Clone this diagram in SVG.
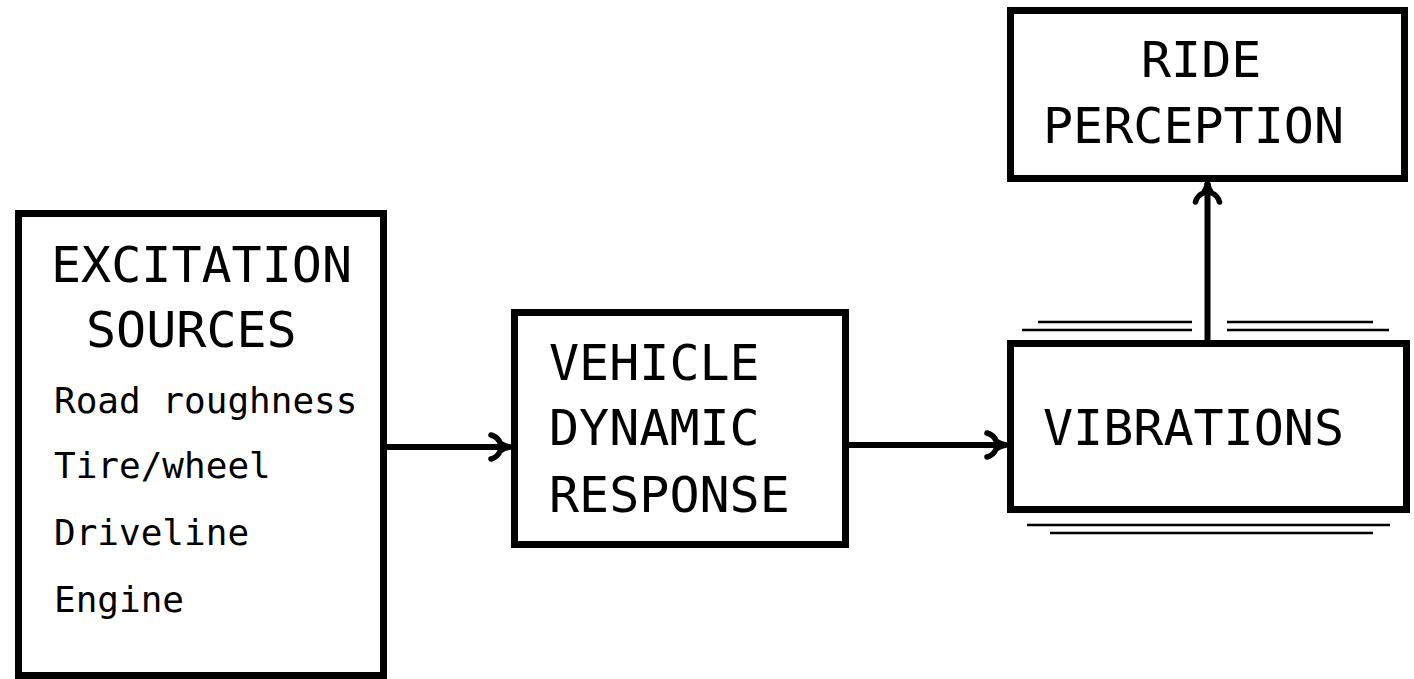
<svg xmlns="http://www.w3.org/2000/svg" width="1414" height="679" viewBox="0 0 1414 679">
<style>
.box{fill:#fff;stroke:#000;stroke-width:7}
.big{font-family:"DejaVu Sans Mono","Liberation Mono",monospace;font-size:50px;fill:#000}
.small{font-family:"DejaVu Sans Mono","Liberation Mono",monospace;font-size:36px;fill:#000}
.conn{stroke:#000;stroke-width:6;fill:none}
.thin{stroke:#000;stroke-width:2.5;fill:none}
</style>
<defs>
<marker id="arr" markerUnits="userSpaceOnUse" markerWidth="32" markerHeight="32" viewBox="-26 -16 32 32" refX="0" refY="0" orient="auto" overflow="visible">
<path d="M -19 -12 Q -12 -10 -10 -4 Q -6 -1 0 0 Q -6 1 -10 4 Q -12 10 -19 12" fill="none" stroke="#000" stroke-width="5.5" stroke-linecap="round" stroke-linejoin="round"/>
</marker>
</defs>
<rect width="1414" height="679" fill="#fff"/>
<g id="excitation">
<rect class="box" x="18.5" y="213.5" width="365" height="462"/>
<text class="big" x="51" y="282">EXCITATION</text>
<text class="big" x="86" y="347">SOURCES</text>
<text class="small" x="54" y="413">Road roughness</text>
<text class="small" x="54" y="478">Tire/wheel</text>
<text class="small" x="54" y="545">Driveline</text>
<text class="small" x="54" y="612">Engine</text>
</g>
<g id="vehicle">
<rect class="box" x="514.5" y="312.5" width="331" height="232"/>
<text class="big" x="549" y="380">VEHICLE</text>
<text class="big" x="549" y="445">DYNAMIC</text>
<text class="big" x="549" y="512">RESPONSE</text>
</g>
<g id="vibrations">
<rect class="box" x="1010.5" y="343.5" width="396" height="166"/>
<text class="big" x="1043" y="445">VIBRATIONS</text>
<line class="thin" x1="1038" y1="322" x2="1192" y2="322"/>
<line class="thin" x1="1022" y1="330" x2="1192" y2="330"/>
<line class="thin" x1="1227" y1="322" x2="1373" y2="322"/>
<line class="thin" x1="1227" y1="330" x2="1389" y2="330"/>
<line class="thin" x1="1027" y1="525" x2="1390" y2="525"/>
<line class="thin" x1="1050" y1="533" x2="1373" y2="533"/>
</g>
<g id="ride">
<rect class="box" x="1010.5" y="10.5" width="394" height="168"/>
<text class="big" x="1141" y="77">RIDE</text>
<text class="big" x="1043" y="143">PERCEPTION</text>
</g>
<g id="connectors">
<line class="conn" x1="387" y1="447" x2="510" y2="447" marker-end="url(#arr)"/>
<line class="conn" x1="849" y1="445" x2="1006" y2="445" marker-end="url(#arr)"/>
<line class="conn" x1="1207.5" y1="340" x2="1207.5" y2="183" marker-end="url(#arr)"/>
</g>
</svg>
